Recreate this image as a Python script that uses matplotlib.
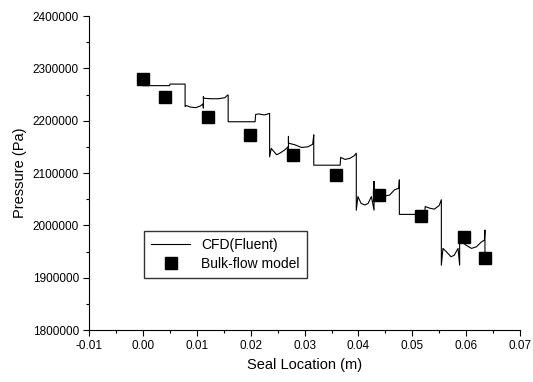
import matplotlib
matplotlib.use("Agg")
import matplotlib.pyplot as plt
from matplotlib.ticker import MultipleLocator

plt.rcParams["font.family"] = ["Liberation Sans", "DejaVu Sans"]

# CFD (Fluent) pressure trace along the seal
cfd_x = [
    0.0000, 0.0049, 0.0050, 0.0078, 0.0078,
    0.0080, 0.0088, 0.0098, 0.0106, 0.0111, 0.0112, 0.0112, 0.0112,
    0.0125, 0.0140, 0.0152, 0.0157, 0.0158, 0.0158,
    0.0208, 0.0209, 0.0215, 0.0225, 0.0232, 0.0235, 0.0235,
    0.0238, 0.0243, 0.0248, 0.0254, 0.0263, 0.0269, 0.0270, 0.0270, 0.0270,
    0.0282, 0.0294, 0.0306, 0.0315, 0.0317, 0.0317,
    0.0366, 0.0367, 0.0375, 0.0384, 0.0392, 0.0396, 0.0396,
    0.0399, 0.0405, 0.0412, 0.0418, 0.0424, 0.0429, 0.0429, 0.0429,
    0.0439, 0.0449, 0.0458, 0.0467, 0.0475, 0.0476, 0.0476,
    0.0523, 0.0524, 0.0532, 0.0541, 0.0550, 0.0554, 0.0554,
    0.0557, 0.0563, 0.0572, 0.0578, 0.0585, 0.0588, 0.0588, 0.0591,
    0.0600, 0.0610, 0.0619, 0.0628, 0.0634, 0.0635, 0.0635,
]
cfd_p = [
    2267000, 2267000, 2270000, 2270000, 2227000,
    2229000, 2226000, 2225000, 2228000, 2232000, 2224000, 2246000, 2243000,
    2242000, 2242000, 2244000, 2249000, 2249000, 2198000,
    2198000, 2212000, 2213000, 2211000, 2213000, 2214000, 2131000,
    2147000, 2141000, 2135000, 2138000, 2144000, 2150000, 2129000, 2170000, 2157000,
    2154000, 2149000, 2150000, 2155000, 2173000, 2115000,
    2115000, 2130000, 2126000, 2128000, 2133000, 2138000, 2029000,
    2055000, 2042000, 2039000, 2042000, 2055000, 2029000, 2084000, 2061000,
    2057000, 2056000, 2058000, 2068000, 2071000, 2087000, 2021000,
    2021000, 2036000, 2033000, 2031000, 2038000, 2049000, 1924000,
    1956000, 1950000, 1940000, 1943000, 1956000, 1924000, 1988000, 1969000,
    1962000, 1956000, 1959000, 1968000, 1972000, 1991000, 1943000,
]

# bulk-flow model points
bulk_x = [0.0000, 0.0040, 0.0120, 0.0199, 0.0279, 0.0359, 0.0438, 0.0517, 0.0596, 0.0636]
bulk_p = [2280000, 2245000, 2207000, 2173000, 2135000, 2097000, 2058000, 2018000, 1978000, 1937000]

fig = plt.figure(figsize=(5.33, 3.82), dpi=100)
ax = fig.add_axes([0.1675, 0.136, 0.808, 0.822])

ax.plot(cfd_x, cfd_p, color="black", linewidth=0.8, label="CFD(Fluent)")
ax.plot(bulk_x, bulk_p, linestyle="none", marker="s", markersize=8.5,
        color="black", label="Bulk-flow model")

ax.set_xlim(-0.01, 0.07)
ax.set_ylim(1800000, 2400000)
ax.xaxis.set_major_locator(MultipleLocator(0.01))
ax.xaxis.set_minor_locator(MultipleLocator(0.005))
ax.yaxis.set_major_locator(MultipleLocator(100000))
ax.yaxis.set_minor_locator(MultipleLocator(50000))
ax.set_xticklabels([f"{v:.2f}" for v in ax.get_xticks()])
ax.set_yticklabels([f"{int(v)}" for v in ax.get_yticks()])

ax.spines["top"].set_visible(False)
ax.spines["right"].set_visible(False)
ax.tick_params(which="major", direction="out", length=4, width=0.8, labelsize=8.5)
ax.tick_params(which="minor", direction="out", length=2.5, width=0.8)

ax.set_xlabel("Seal Location (m)", fontsize=10.5)
ax.set_ylabel("Pressure (Pa)", fontsize=10.5)

leg = ax.legend(loc="upper left", bbox_to_anchor=(0.112, 0.337), fontsize=10,
                frameon=True, fancybox=False, edgecolor="black",
                handlelength=2.8, borderpad=0.5, labelspacing=0.35)
leg.get_frame().set_linewidth(1.0)

fig.savefig("out.png", dpi=100)
